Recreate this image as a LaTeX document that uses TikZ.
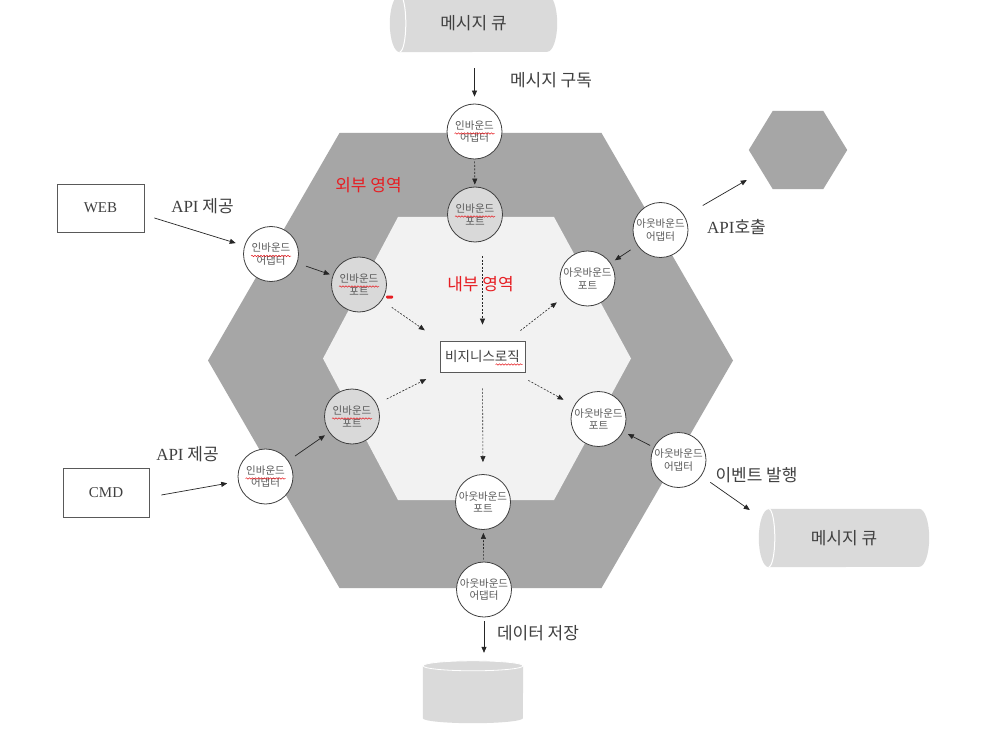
\documentclass[tikz,border=0pt]{standalone}
\usepackage{fontspec}
\setmainfont{Noto Sans CJK KR}
\newfontfamily\lser{Liberation Serif}
\usetikzlibrary{arrows.meta,decorations.pathmorphing,calc}
\pgfdeclarelayer{bg}
\pgfsetlayers{bg,main}
\definecolor{outerg}{HTML}{A6A6A6}
\definecolor{innerg}{HTML}{F2F2F2}
\definecolor{portg}{HTML}{D9D9D9}
\definecolor{cylg}{HTML}{DADADA}
\definecolor{redl}{RGB}{230,30,35}
\begin{document}
\begin{tikzpicture}[x=1pt,y=-1pt,
 circ/.style={circle, draw=black!75, line width=0.8pt, fill=white, minimum size=55pt, inner sep=0pt, align=center, text=black!65, font=\fontsize{10.5}{12.5}\selectfont},
 pcirc/.style={circ, fill=portg},
 lbl/.style={text=black!75, font=\fontsize{17}{20}\selectfont, inner sep=0pt},
 rlbl/.style={text=redl, font=\fontsize{17}{20}\selectfont, inner sep=0pt},
 box/.style={draw=black!65, line width=0.8pt, fill=white, inner sep=0pt, text=black!75},
 arr/.style={-{Triangle[length=6pt,width=5pt]}, line width=0.7pt, draw=black!85},
 darr/.style={arr, dash pattern=on 2pt off 1.5pt, line width=0.6pt},
 squig/.style={draw=redl, line width=0.5pt, decorate, decoration={snake, amplitude=0.7pt, segment length=3pt}}
]
\useasboundingbox (0,0) rectangle (1003,735);

% containers (shapes drawn on background layer)
\node[lbl, minimum width=167pt, minimum height=57pt] (q1) at (473.5,23.5) {메시지 큐};
\node[lbl, minimum width=170pt, minimum height=58pt] (q2) at (844,538) {메시지 큐};
\node[minimum width=100pt, minimum height=62pt, inner sep=0pt] (db) at (473,692) {};
\node[minimum width=98pt, minimum height=78pt, inner sep=0pt] (hx) at (798,150) {};

% boxes
\node[box, minimum width=87pt, minimum height=48pt, font=\lser\fontsize{15}{17}\selectfont] (web) at (100.5,208) {WEB};
\node[box, minimum width=86pt, minimum height=49pt, font=\lser\fontsize{15}{17}\selectfont] (cmd) at (106,492.5) {CMD};
\node[box, minimum width=85pt, minimum height=31pt, font=\fontsize{13.5}{15}\selectfont] (bl) at (482.5,356.5) {비지니스로직};

% circles
\node[circ]  (iat) at (474.5,131.5) {인바운드\\어댑터};
\node[pcirc] (ipt) at (475,214.5) {인바운드\\포트};
\node[circ]  (ia1) at (271,254) {인바운드\\어댑터};
\node[pcirc] (ip1) at (359,284.5) {인바운드\\포트};
\node[pcirc] (ip2) at (352,416.5) {인바운드\\포트};
\node[circ]  (ia2) at (265.5,476.5) {인바운드\\어댑터};
\node[circ]  (opb) at (483,502) {아웃바운드\\포트};
\node[circ]  (oab) at (484,589.5) {아웃바운드\\어댑터};
\node[circ]  (op1) at (587.5,278.5) {아웃바운드\\포트};
\node[circ]  (oa1) at (660.5,230) {아웃바운드\\어댑터};
\node[circ]  (op2) at (598.5,419) {아웃바운드\\포트};
\node[circ]  (oa2) at (678.5,460) {아웃바운드\\어댑터};

% labels
\node[lbl] (lsub) at (551,80) {메시지 구독};
\node[lbl] (lapi1) at (202.5,206) {{\lser API} 제공};
\node[lbl] (lapi2) at (187.5,454) {{\lser API} 제공};
\node[lbl] (lcall) at (736.5,227) {{\lser API}호출};
\node[lbl] (lev) at (756.5,475) {이벤트 발행};
\node[lbl] (ldata) at (538,633) {데이터 저장};
\node[rlbl] (lout) at (368.5,185) {외부 영역};
\node[rlbl] (lin) at (480.5,284) {내부 영역};

\begin{pgfonlayer}{bg}
 \fill[white] (0,0) rectangle (1003,735);
 \fill[outerg] (208,360.5) -- (339.5,133) -- (601.5,133) -- (733,360.5) -- (601.5,588) -- (339.5,588) -- cycle;
 \fill[innerg] (323,358.5) -- (398,217) -- (554,217) -- (631,358.5) -- (554,500) -- (398,500) -- cycle;
 \fill[outerg] (hx.west) -- ([xshift=24pt]hx.north west) -- ([xshift=-24pt]hx.north east) -- (hx.east) -- ([xshift=-24pt]hx.south east) -- ([xshift=24pt]hx.south west) -- cycle;
 % top queue
 \fill[cylg] ([xshift=10pt]q1.north west) -- ([xshift=-10pt]q1.north east) arc[start angle=90,end angle=-90,x radius=10pt,y radius=28.5pt] -- ([xshift=10pt]q1.south west) arc[start angle=270,end angle=90,x radius=10pt,y radius=28.5pt] -- cycle;
 \draw[white, line width=1pt] ([xshift=10pt]q1.north west) arc[start angle=90,end angle=-90,x radius=6pt,y radius=28.5pt];
 % right queue
 \fill[cylg] ([xshift=10pt]q2.north west) -- ([xshift=-10pt]q2.north east) arc[start angle=90,end angle=-90,x radius=10pt,y radius=29pt] -- ([xshift=10pt]q2.south west) arc[start angle=270,end angle=90,x radius=10pt,y radius=29pt] -- cycle;
 \draw[white, line width=1pt] ([xshift=10pt]q2.north west) arc[start angle=90,end angle=-90,x radius=6pt,y radius=29pt];
 % database
 \fill[cylg] ([yshift=-5pt]db.north west) -- ([yshift=5pt]db.south west) arc[start angle=180,end angle=360,x radius=50pt,y radius=5pt] -- ([yshift=-5pt]db.north east) -- cycle;
 \draw[white, fill=portg, line width=0.8pt] ([yshift=-5pt]db.north) ellipse[x radius=50pt, y radius=5pt];
\end{pgfonlayer}

% connectors
\draw[arr, shorten <=16pt, shorten >=7pt] (iat.north |- q1.south) -- (iat.north);
\draw[darr, shorten <=2pt, shorten >=2pt] (iat) -- (ipt);
\draw[arr, shorten >=9pt] ([shift={(10pt,-10pt)}]web.east) -- (ia1);
\draw[arr, shorten <=9pt, shorten >=3pt] (ia1) -- (ip1);
\draw[darr, shorten <=12pt, shorten >=18pt] (ip1) -- (bl.north west);
\draw[darr, shorten <=14pt, shorten >=16pt] (ipt.south -| bl.north) -- (bl.north);
\draw[darr, shorten <=11pt, shorten >=15pt] (ip2) -- (bl.south west);
\draw[arr, shorten >=11pt] ([shift={(12pt,-2.5pt)}]cmd.east) -- (ia2);
\draw[arr, shorten <=8pt, shorten >=5pt] (ia2) -- (ip2);
\draw[darr, shorten >=11pt] ([shift={(-5pt,10pt)}]bl.north east) -- (op1);
\draw[darr, shorten >=12pt] ([shift={(3pt,-8pt)}]bl.south east) -- (op2);
\draw[darr, shorten <=16pt, shorten >=12pt] (bl.south) -- (opb.north);
\draw[arr, shorten <=8pt, shorten >=5pt] (oa1) -- (op1);
\draw[arr, shorten <=21pt] (oa1) -- ([shift={(-2pt,-30pt)}]hx.west);
\draw[arr, shorten <=4pt, shorten >=5pt] (oa2) -- (op2);
\draw[arr, shorten <=11pt] (oa2) -- ([shift={(-9pt,28pt)}]q2.west);
\draw[darr, shorten <=2pt, shorten >=3pt] (oab) -- (opb);
\draw[arr, shorten <=4pt, shorten >=8pt] (oab.south) -- (oab.south |- db.north);

% spell-check marks
\foreach \n in {iat,ipt,ia1,ip1,ip2,ia2}
  \draw[squig] ([shift={(-20pt,-2pt)}]\n.center) -- ([shift={(20pt,-2pt)}]\n.center);
\draw[squig] ([shift={(13pt,-8pt)}]bl.center) -- ([shift={(40pt,-8pt)}]bl.center);
\fill[redl, rounded corners=1pt] (386,295.5) rectangle (393,298.5);
\end{tikzpicture}
\end{document}
